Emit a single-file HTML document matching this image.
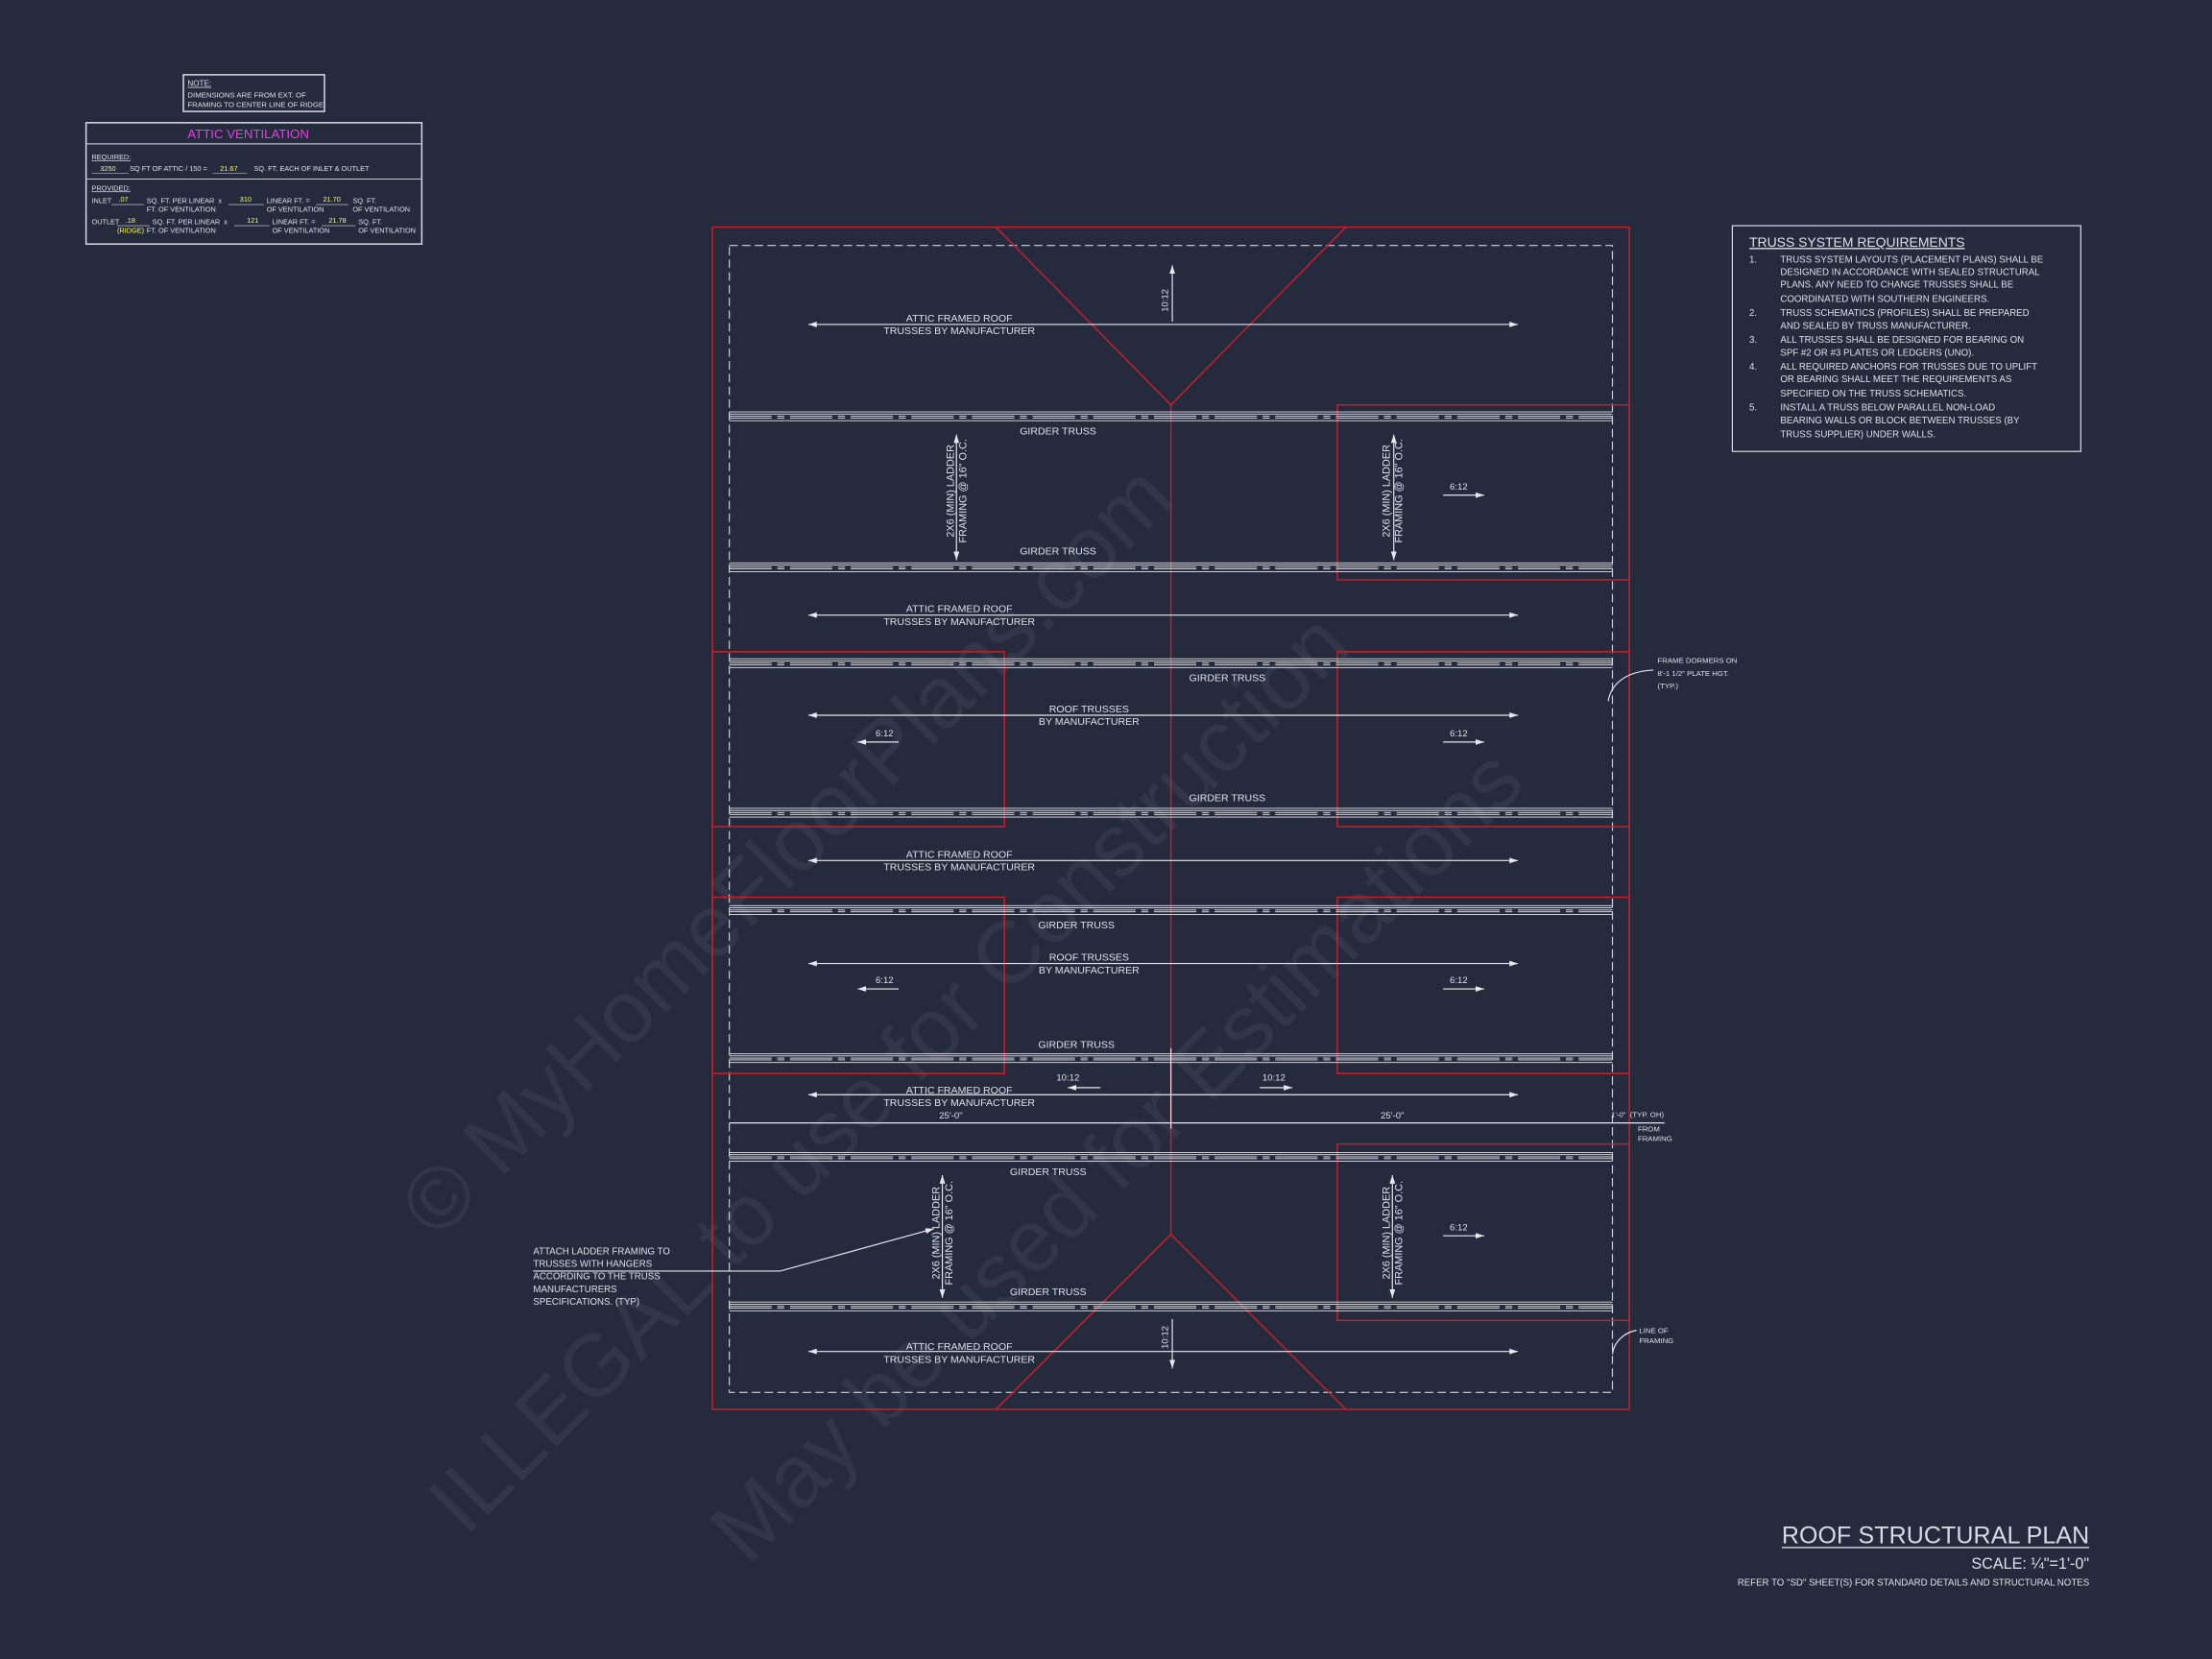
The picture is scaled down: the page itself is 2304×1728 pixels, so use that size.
<!DOCTYPE html>
<html><head><meta charset="utf-8"><style>
html,body{margin:0;padding:0;background:#252a3d;}
svg{display:block}
text{font-family:"Liberation Sans Narrow","Liberation Sans",sans-serif;fill:#dde0e8;white-space:pre;}
</style></head><body>
<svg width="2304" height="1728" viewBox="0 0 1568 1176" xmlns="http://www.w3.org/2000/svg" xml:space="preserve">
<defs>
<g id="band">
<line x1="517" y1="0" x2="1143" y2="0" stroke="#e6e8ee" stroke-width="0.6"/>
<line x1="517" y1="1.5" x2="1143" y2="1.5" stroke="#e6e8ee" stroke-width="0.6"/>
<line x1="517" y1="3" x2="1143" y2="3" stroke="#e6e8ee" stroke-width="0.6" stroke-dasharray="30 4 5 4"/>
<line x1="517" y1="4.3" x2="1143" y2="4.3" stroke="#e6e8ee" stroke-width="0.6" stroke-dasharray="30 4 5 4"/>
<line x1="517" y1="6.2" x2="1143" y2="6.2" stroke="#e6e8ee" stroke-width="0.6"/>
</g>
<marker id="ah" markerWidth="6" markerHeight="4" refX="6" refY="2" orient="auto" markerUnits="userSpaceOnUse"><path d="M0,0 L6,2 L0,4z" fill="#e6e8ee"/></marker>
<marker id="ahs" markerWidth="6" markerHeight="4" refX="0" refY="2" orient="auto" markerUnits="userSpaceOnUse"><path d="M6,0 L0,2 L6,4z" fill="#e6e8ee"/></marker>
</defs>
<rect width="1568" height="1176" fill="#252a3d"/>

<!-- watermark -->
<g opacity="0.055" font-family="Liberation Serif,serif">
<text x="0" y="0" font-size="62" transform="translate(310,880) rotate(-45)" style="fill:#fff">© MyHomeFloorPlans.com</text>
<text x="0" y="0" font-size="62" transform="translate(330,1090) rotate(-45)" style="fill:#fff">ILLEGAL to use for Construction</text>
<text x="0" y="0" font-size="62" transform="translate(530,1110) rotate(-45)" style="fill:#fff">May be used for Estimations</text>
</g>

<!-- notes -->
<rect x="130" y="53" width="100" height="26" fill="none" stroke="#dde0e8" stroke-width="1"/>
<text x="133" y="61" font-size="5.5" text-decoration="underline">NOTE:</text>
<text x="133" y="69" font-size="5.3">DIMENSIONS ARE FROM EXT. OF</text>
<text x="133" y="76" font-size="5.3">FRAMING TO CENTER LINE OF RIDGE.</text>

<rect x="61" y="87" width="238" height="86" fill="none" stroke="#dde0e8" stroke-width="1"/>
<line x1="61" y1="102" x2="299" y2="102" stroke="#dde0e8" stroke-width="0.6"/>
<line x1="61" y1="127" x2="299" y2="127" stroke="#dde0e8" stroke-width="0.6"/>
<text x="176" y="98" font-size="9" text-anchor="middle" style="fill:#e63fe6">ATTIC VENTILATION</text>
<text x="65" y="113" font-size="5" text-decoration="underline">REQUIRED:</text>
<text x="71" y="121" font-size="5" style="fill:#ffff40">3250</text>
<text x="92" y="121" font-size="5">SQ FT OF ATTIC / 150 =</text>
<text x="156" y="121" font-size="5" style="fill:#ffff40">21.67</text>
<text x="180" y="121" font-size="5">SQ. FT. EACH OF INLET &amp; OUTLET</text>
<line x1="65" y1="123" x2="91" y2="123" stroke="#dde0e8" stroke-width="0.4"/>
<line x1="151" y1="123" x2="175" y2="123" stroke="#dde0e8" stroke-width="0.4"/>
<text x="65" y="135" font-size="5" text-decoration="underline">PROVIDED:</text>
<g font-size="5">
<text x="65" y="144">INLET</text><text x="84" y="143" style="fill:#ffff40">.07</text><line x1="79" y1="145" x2="102" y2="145" stroke="#dde0e8" stroke-width="0.4"/>
<text x="104" y="144">SQ. FT. PER LINEAR  x</text><text x="170" y="143" style="fill:#ffff40">310</text><line x1="162" y1="145" x2="187" y2="145" stroke="#dde0e8" stroke-width="0.4"/>
<text x="189" y="144">LINEAR FT. =</text><text x="229" y="143" style="fill:#ffff40">21.70</text><line x1="224" y1="145" x2="247" y2="145" stroke="#dde0e8" stroke-width="0.4"/>
<text x="250" y="144">SQ. FT.</text>
<text x="104" y="150">FT. OF VENTILATION</text><text x="189" y="150">OF VENTILATION</text><text x="250" y="150">OF VENTILATION</text>
<text x="65" y="159">OUTLET</text><text x="89" y="158" style="fill:#ffff40">.18</text><line x1="83" y1="160" x2="106" y2="160" stroke="#dde0e8" stroke-width="0.4"/>
<text x="108" y="159">SQ. FT. PER LINEAR  x</text><text x="175" y="158" style="fill:#ffff40">121</text><line x1="166" y1="160" x2="191" y2="160" stroke="#dde0e8" stroke-width="0.4"/>
<text x="193" y="159">LINEAR FT. =</text><text x="233" y="158" style="fill:#ffff40">21.78</text><line x1="228" y1="160" x2="252" y2="160" stroke="#dde0e8" stroke-width="0.4"/>
<text x="254" y="159">SQ. FT.</text>
<text x="83" y="165" style="fill:#ffff40">(RIDGE)</text><text x="104" y="165">FT. OF VENTILATION</text><text x="193" y="165">OF VENTILATION</text><text x="254" y="165">OF VENTILATION</text>
</g>

<!-- truss requirements -->
<rect x="1228" y="160" width="247" height="160" fill="none" stroke="#dde0e8" stroke-width="0.8"/>
<text x="1240" y="175" font-size="9.5" text-decoration="underline">TRUSS SYSTEM REQUIREMENTS</text>
<g font-size="6.6">
<text x="1240" y="186">1.</text><text x="1262" y="186">TRUSS SYSTEM LAYOUTS (PLACEMENT PLANS) SHALL BE</text>
<text x="1262" y="195">DESIGNED IN ACCORDANCE WITH SEALED STRUCTURAL</text>
<text x="1262" y="204">PLANS. ANY NEED TO CHANGE TRUSSES SHALL BE</text>
<text x="1262" y="214">COORDINATED WITH SOUTHERN ENGINEERS.</text>
<text x="1240" y="224">2.</text><text x="1262" y="224">TRUSS SCHEMATICS (PROFILES) SHALL BE PREPARED</text>
<text x="1262" y="233">AND SEALED BY TRUSS MANUFACTURER.</text>
<text x="1240" y="243">3.</text><text x="1262" y="243">ALL TRUSSES SHALL BE DESIGNED FOR BEARING ON</text>
<text x="1262" y="252">SPF #2 OR #3 PLATES OR LEDGERS (UNO).</text>
<text x="1240" y="262">4.</text><text x="1262" y="262">ALL REQUIRED ANCHORS FOR TRUSSES DUE TO UPLIFT</text>
<text x="1262" y="271">OR BEARING SHALL MEET THE REQUIREMENTS AS</text>
<text x="1262" y="281">SPECIFIED ON THE TRUSS SCHEMATICS.</text>
<text x="1240" y="291">5.</text><text x="1262" y="291">INSTALL A TRUSS BELOW PARALLEL NON-LOAD</text>
<text x="1262" y="300">BEARING WALLS OR BLOCK BETWEEN TRUSSES (BY</text>
<text x="1262" y="310">TRUSS SUPPLIER) UNDER WALLS.</text>
</g>

<!-- plan -->
<rect x="517" y="174" width="626" height="813" fill="none" stroke="#cfd2dc" stroke-width="0.8" stroke-dasharray="6 3"/>
<g fill="none" stroke="#c8202a" stroke-width="1">
<rect x="505" y="161" width="650" height="838"/>
<polyline points="706,161 830,287 954,161"/>
<polyline points="706,999 830,875 954,999"/>
<line x1="830" y1="287" x2="830" y2="875"/>
<rect x="948" y="287" width="207" height="124"/>
<rect x="948" y="462" width="207" height="124"/>
<rect x="948" y="636" width="207" height="125"/>
<rect x="948" y="811" width="207" height="125"/>
<rect x="505" y="462" width="207" height="124"/>
<rect x="505" y="636" width="207" height="125"/>
</g>

<use href="#band" y="292"/><use href="#band" y="399"/>
<use href="#band" y="467"/><use href="#band" y="573"/>
<use href="#band" y="642"/><use href="#band" y="747"/>
<use href="#band" y="817"/><use href="#band" y="923"/>

<g stroke="#e6e8ee" stroke-width="0.8" fill="none">
<line x1="573" y1="230" x2="1076" y2="230" marker-start="url(#ahs)" marker-end="url(#ah)"/>
<line x1="573" y1="436" x2="1076" y2="436" marker-start="url(#ahs)" marker-end="url(#ah)"/>
<line x1="573" y1="507" x2="1076" y2="507" marker-start="url(#ahs)" marker-end="url(#ah)"/>
<line x1="573" y1="610" x2="1076" y2="610" marker-start="url(#ahs)" marker-end="url(#ah)"/>
<line x1="573" y1="683" x2="1076" y2="683" marker-start="url(#ahs)" marker-end="url(#ah)"/>
<line x1="573" y1="776" x2="1076" y2="776" marker-start="url(#ahs)" marker-end="url(#ah)"/>
<line x1="573" y1="958" x2="1076" y2="958" marker-start="url(#ahs)" marker-end="url(#ah)"/>
<line x1="831" y1="228" x2="831" y2="188" marker-end="url(#ah)"/>
<line x1="831" y1="935" x2="831" y2="970" marker-end="url(#ah)"/>
<line x1="678" y1="308" x2="678" y2="397" marker-start="url(#ahs)" marker-end="url(#ah)"/>
<line x1="988" y1="308" x2="988" y2="397" marker-start="url(#ahs)" marker-end="url(#ah)"/>
<line x1="668" y1="833" x2="668" y2="920" marker-start="url(#ahs)" marker-end="url(#ah)"/>
<line x1="987" y1="833" x2="987" y2="920" marker-start="url(#ahs)" marker-end="url(#ah)"/>
<line x1="1023" y1="351" x2="1052" y2="351" marker-end="url(#ah)"/>
<line x1="1023" y1="526" x2="1052" y2="526" marker-end="url(#ah)"/>
<line x1="1023" y1="701" x2="1052" y2="701" marker-end="url(#ah)"/>
<line x1="1023" y1="876" x2="1052" y2="876" marker-end="url(#ah)"/>
<line x1="637" y1="526" x2="608" y2="526" marker-end="url(#ah)"/>
<line x1="637" y1="701" x2="608" y2="701" marker-end="url(#ah)"/>
<line x1="780" y1="771" x2="757" y2="771" marker-end="url(#ah)"/>
<line x1="893" y1="771" x2="916" y2="771" marker-end="url(#ah)"/>
<line x1="517" y1="796" x2="1180" y2="796"/>
<line x1="830" y1="743" x2="830" y2="800"/>
<polyline points="378,901 553,901 662,871" marker-end="url(#ah)"/>
<path d="M1140,497 C1142,485 1152,476 1172,475"/>
<path d="M1143,960 C1144,952 1150,945 1160,943"/>
</g>

<g font-size="7.2" text-anchor="middle">
<text x="680" y="228">ATTIC FRAMED ROOF</text><text x="680" y="237">TRUSSES BY MANUFACTURER</text>
<text x="680" y="434">ATTIC FRAMED ROOF</text><text x="680" y="443">TRUSSES BY MANUFACTURER</text>
<text x="680" y="608">ATTIC FRAMED ROOF</text><text x="680" y="617">TRUSSES BY MANUFACTURER</text>
<text x="680" y="775">ATTIC FRAMED ROOF</text><text x="680" y="784">TRUSSES BY MANUFACTURER</text>
<text x="680" y="957">ATTIC FRAMED ROOF</text><text x="680" y="966">TRUSSES BY MANUFACTURER</text>
<text x="772" y="505">ROOF TRUSSES</text><text x="772" y="514">BY MANUFACTURER</text>
<text x="772" y="681">ROOF TRUSSES</text><text x="772" y="690">BY MANUFACTURER</text>
<text x="750" y="308">GIRDER TRUSS</text><text x="750" y="393">GIRDER TRUSS</text>
<text x="870" y="483">GIRDER TRUSS</text><text x="870" y="568">GIRDER TRUSS</text>
<text x="763" y="658">GIRDER TRUSS</text><text x="763" y="743">GIRDER TRUSS</text>
<text x="743" y="833">GIRDER TRUSS</text><text x="743" y="918">GIRDER TRUSS</text>
<text x="1034" y="347" font-size="6.5">6:12</text><text x="1034" y="522" font-size="6.5">6:12</text>
<text x="1034" y="697" font-size="6.5">6:12</text><text x="1034" y="872" font-size="6.5">6:12</text>
<text x="627" y="522" font-size="6.5">6:12</text><text x="627" y="697" font-size="6.5">6:12</text>
<text x="757" y="766" font-size="6.5">10:12</text><text x="903" y="766" font-size="6.5">10:12</text>
<text x="674" y="793" font-size="6.5">25'-0"</text><text x="987" y="793" font-size="6.5">25'-0"</text>
</g>
<text font-size="6.5" text-anchor="middle" transform="translate(828,213) rotate(-90)">10:12</text>
<text font-size="6.5" text-anchor="middle" transform="translate(828,948) rotate(-90)">10:12</text>
<g font-size="7.4" text-anchor="middle">
<text transform="translate(676,348) rotate(-90)">2X6 (MIN) LADDER</text><text transform="translate(685,348) rotate(-90)">FRAMING @ 16" O.C.</text>
<text transform="translate(985,348) rotate(-90)">2X6 (MIN) LADDER</text><text transform="translate(994,348) rotate(-90)">FRAMING @ 16" O.C.</text>
<text transform="translate(666,874) rotate(-90)">2X6 (MIN) LADDER</text><text transform="translate(675,874) rotate(-90)">FRAMING @ 16" O.C.</text>
<text transform="translate(985,874) rotate(-90)">2X6 (MIN) LADDER</text><text transform="translate(994,874) rotate(-90)">FRAMING @ 16" O.C.</text>
</g>
<g font-size="6.6">
<text x="378" y="889">ATTACH LADDER FRAMING TO</text>
<text x="378" y="898">TRUSSES WITH HANGERS</text>
<text x="378" y="907">ACCORDING TO THE TRUSS</text>
<text x="378" y="916">MANUFACTURERS</text>
<text x="378" y="925">SPECIFICATIONS. (TYP)</text>
</g>
<g font-size="5.3">
<text x="1175" y="470">FRAME DORMERS ON</text><text x="1175" y="479">8'-1 1/2" PLATE HGT.</text><text x="1175" y="488">(TYP.)</text>
<text x="1142" y="792">1'-0"  (TYP. OH)</text><text x="1161" y="802">FROM</text><text x="1161" y="809">FRAMING</text>
<text x="1162" y="945">LINE OF</text><text x="1162" y="952">FRAMING</text>
</g>

<!-- title -->
<text x="1481" y="1094" font-size="17" text-anchor="end" style="fill:#d8dbe4" textLength="218">ROOF STRUCTURAL PLAN</text>
<line x1="1263" y1="1097" x2="1481" y2="1097" stroke="#c8ccd6" stroke-width="1"/>
<text x="1481" y="1112" font-size="11" text-anchor="end">SCALE: ¼"=1'-0"</text>
<text x="1481" y="1124" font-size="6.6" text-anchor="end">REFER TO "SD" SHEET(S) FOR STANDARD DETAILS AND STRUCTURAL NOTES</text>
</svg>
</body></html>
